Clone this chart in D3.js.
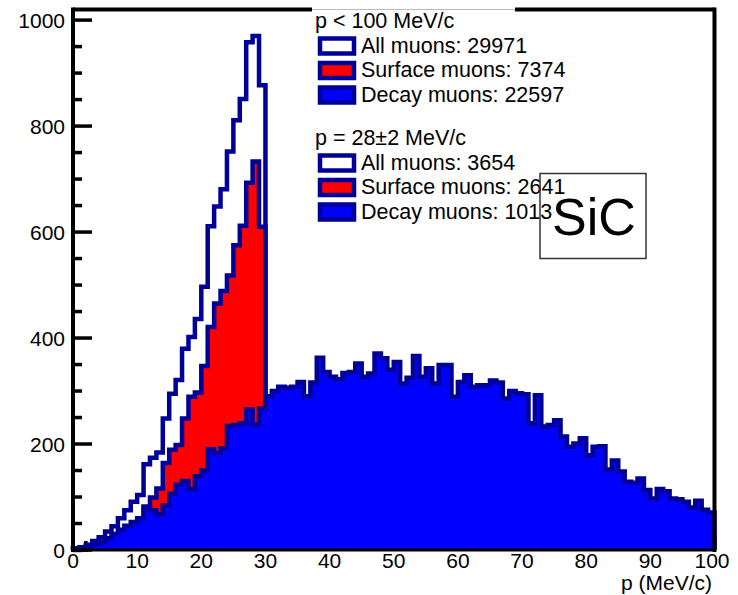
<!DOCTYPE html>
<html>
<head>
<meta charset="utf-8">
<script src="https://cdn.jsdelivr.net/npm/d3@7"></script>
<style>
  body { margin: 0; background: #fff; }
  svg { display: block; }
  text { font-family: "Liberation Sans", Arial, sans-serif; }
</style>
</head>
<body>
<svg width="738" height="595"></svg>
<script>
// 1 MeV/c bins
// bins 0..29 (below 30 MeV/c, where surface muons live)
const allMuons = [3, 5, 10, 17, 24, 35, 45, 60, 75, 91,
  104, 162, 174, 184, 248, 295, 321, 380, 402, 436,
  497, 611, 648, 681, 752, 811, 851, 958, 970, 877];
const surfaceMuons = [0, 1, 3, 5, 8, 13, 15, 22, 29, 38,
  44, 82, 99, 116, 164, 189, 198, 248, 289, 297,
  347, 421, 465, 489, 518, 575, 612, 693, 733, 610];
// bins 0..99
const decayMuons = [3, 4, 7, 12, 16, 22, 30, 38, 46, 53,
  60, 80, 75, 68, 84, 106, 123, 130, 115, 139,
  150, 190, 183, 192, 234, 236, 239, 265, 237, 267,
  290, 300, 308, 306, 308, 317, 290, 316, 363, 336,
  327, 322, 334, 336, 352, 327, 333, 371, 362, 340,
  355, 314, 325, 366, 327, 343, 314, 349, 349, 289,
  317, 330, 308, 311, 311, 320, 316, 286, 300, 296,
  294, 239, 292, 233, 236, 245, 214, 195, 201, 211,
  179, 195, 196, 152, 169, 148, 129, 127, 135, 113,
  97, 115, 111, 97, 96, 91, 80, 93, 76, 71];

const yTicks = [0, 200, 400, 600, 800, 1000];
const xTicks = [0, 10, 20, 30, 40, 50, 60, 70, 80, 90, 100];

const legendBlocks = [
  { title: "p < 100 MeV/c", entries: ["All muons: 29971", "Surface muons: 7374", "Decay muons: 22597"] },
  { title: "p = 28\u00b12 MeV/c", entries: ["All muons: 3654", "Surface muons: 2641", "Decay muons: 1013"] }
];
const legendFills = ["#ffffff", "#ff0000", "#0000ff"];

const navy = "#000099";
const svg = d3.select("svg");

const x = d3.scaleLinear().domain([0, 100]).range([73, 714.5]);
const y = d3.scaleLinear().domain([0, 1020]).range([550, 9.5]);

// x ticks go under the histograms
const xt = svg.append("g");
xt.selectAll("line")
  .data(d3.range(0, 101, 2))
  .enter()
  .append("line")
  .attr("x1", d => x(d)).attr("x2", d => x(d))
  .attr("y1", y(0))
  .attr("y2", d => y(0) - (d % 10 === 0 ? 18 : 9))
  .attr("stroke", "#000").attr("stroke-width", 3.5);

function histPoints(values) {
  let pts = [[0, 0]];
  values.forEach(function (v, i) {
    pts.push([i, v]);
    pts.push([i + 1, v]);
  });
  pts.push([values.length, 0]);
  return pts;
}

const lineGenerator = d3.line()
  .x(d => x(d[0]))
  .y(d => y(d[1]));

const hists = svg.append("g")
  .attr("stroke", navy)
  .attr("stroke-width", 4.5)
  .attr("stroke-linejoin", "miter");

hists.append("path").attr("d", lineGenerator(histPoints(allMuons))).attr("fill", "#ffffff");
hists.append("path").attr("d", lineGenerator(histPoints(surfaceMuons))).attr("fill", "#ff0000");
hists.append("path").attr("d", lineGenerator(histPoints(decayMuons))).attr("fill", "#0000ff");

// frame
const frame = svg.append("g").attr("stroke", "#000").attr("stroke-width", 4);
frame.append("line").attr("x1", x(0)).attr("x2", x(100)).attr("y1", y(1020)).attr("y2", y(1020));
frame.append("line").attr("x1", x(100)).attr("x2", x(100)).attr("y1", y(1020) - 2).attr("y2", y(0) + 2);
frame.append("line").attr("x1", x(0)).attr("x2", x(0)).attr("y1", y(1020) - 2).attr("y2", y(0) + 2);
frame.append("line").attr("x1", x(0)).attr("x2", x(100)).attr("y1", y(0)).attr("y2", y(0))
  .attr("stroke-width", 3);

// y ticks
svg.append("g").selectAll("line")
  .data(d3.range(0, 1001, 50))
  .enter()
  .append("line")
  .attr("x1", x(0)).attr("x2", d => x(0) + (d % 200 === 0 ? 19 : 9))
  .attr("y1", d => y(d)).attr("y2", d => y(d))
  .attr("stroke", "#000").attr("stroke-width", 3.5);

svg.append("g").selectAll("text")
  .data(yTicks)
  .enter()
  .append("text")
  .attr("x", 65)
  .attr("y", d => y(d) + 7.5)
  .attr("text-anchor", "end")
  .attr("font-size", 21)
  .text(d => d);

svg.append("g").selectAll("text")
  .data(xTicks)
  .enter()
  .append("text")
  .attr("x", d => x(d) - (d === 100 ? 2.5 : 0))
  .attr("y", 568)
  .attr("text-anchor", "middle")
  .attr("font-size", 21)
  .text(d => d);

svg.append("text")
  .attr("x", 712).attr("y", 590)
  .attr("text-anchor", "end")
  .attr("font-size", 21)
  .text("p (MeV/c)");

// legend
svg.append("rect")
  .attr("x", 312).attr("y", 7).attr("width", 203).attr("height", 222)
  .attr("fill", "#fff");
svg.append("line")
  .attr("x1", 312).attr("x2", 515).attr("y1", 9.5).attr("y2", 9.5)
  .attr("stroke", "#bbb").attr("stroke-width", 1);

const titleY = [28, 145];
const entryY = [[52.5, 77, 101.5], [169.5, 194, 218.5]];
legendBlocks.forEach(function (blk, b) {
  svg.append("text")
    .attr("x", 315).attr("y", titleY[b])
    .attr("font-size", 21.5)
    .text(blk.title);
  blk.entries.forEach(function (t, i) {
    let by = entryY[b][i];
    svg.append("rect")
      .attr("x", 320).attr("y", by - 14)
      .attr("width", 34).attr("height", 15)
      .attr("fill", legendFills[i])
      .attr("stroke", navy).attr("stroke-width", 4.5);
    svg.append("text")
      .attr("x", 361).attr("y", by)
      .attr("font-size", 21.5)
      .text(t);
  });
});

// SiC label
svg.append("rect")
  .attr("x", 540).attr("y", 173.5).attr("width", 106).attr("height", 85)
  .attr("fill", "none").attr("stroke", "#333").attr("stroke-width", 1.5);
svg.append("text")
  .attr("x", 594).attr("y", 235)
  .attr("text-anchor", "middle")
  .attr("font-family", "Lato, 'Open Sans', sans-serif")
  .attr("font-size", 52)
  .text("SiC");
</script>
</body>
</html>
